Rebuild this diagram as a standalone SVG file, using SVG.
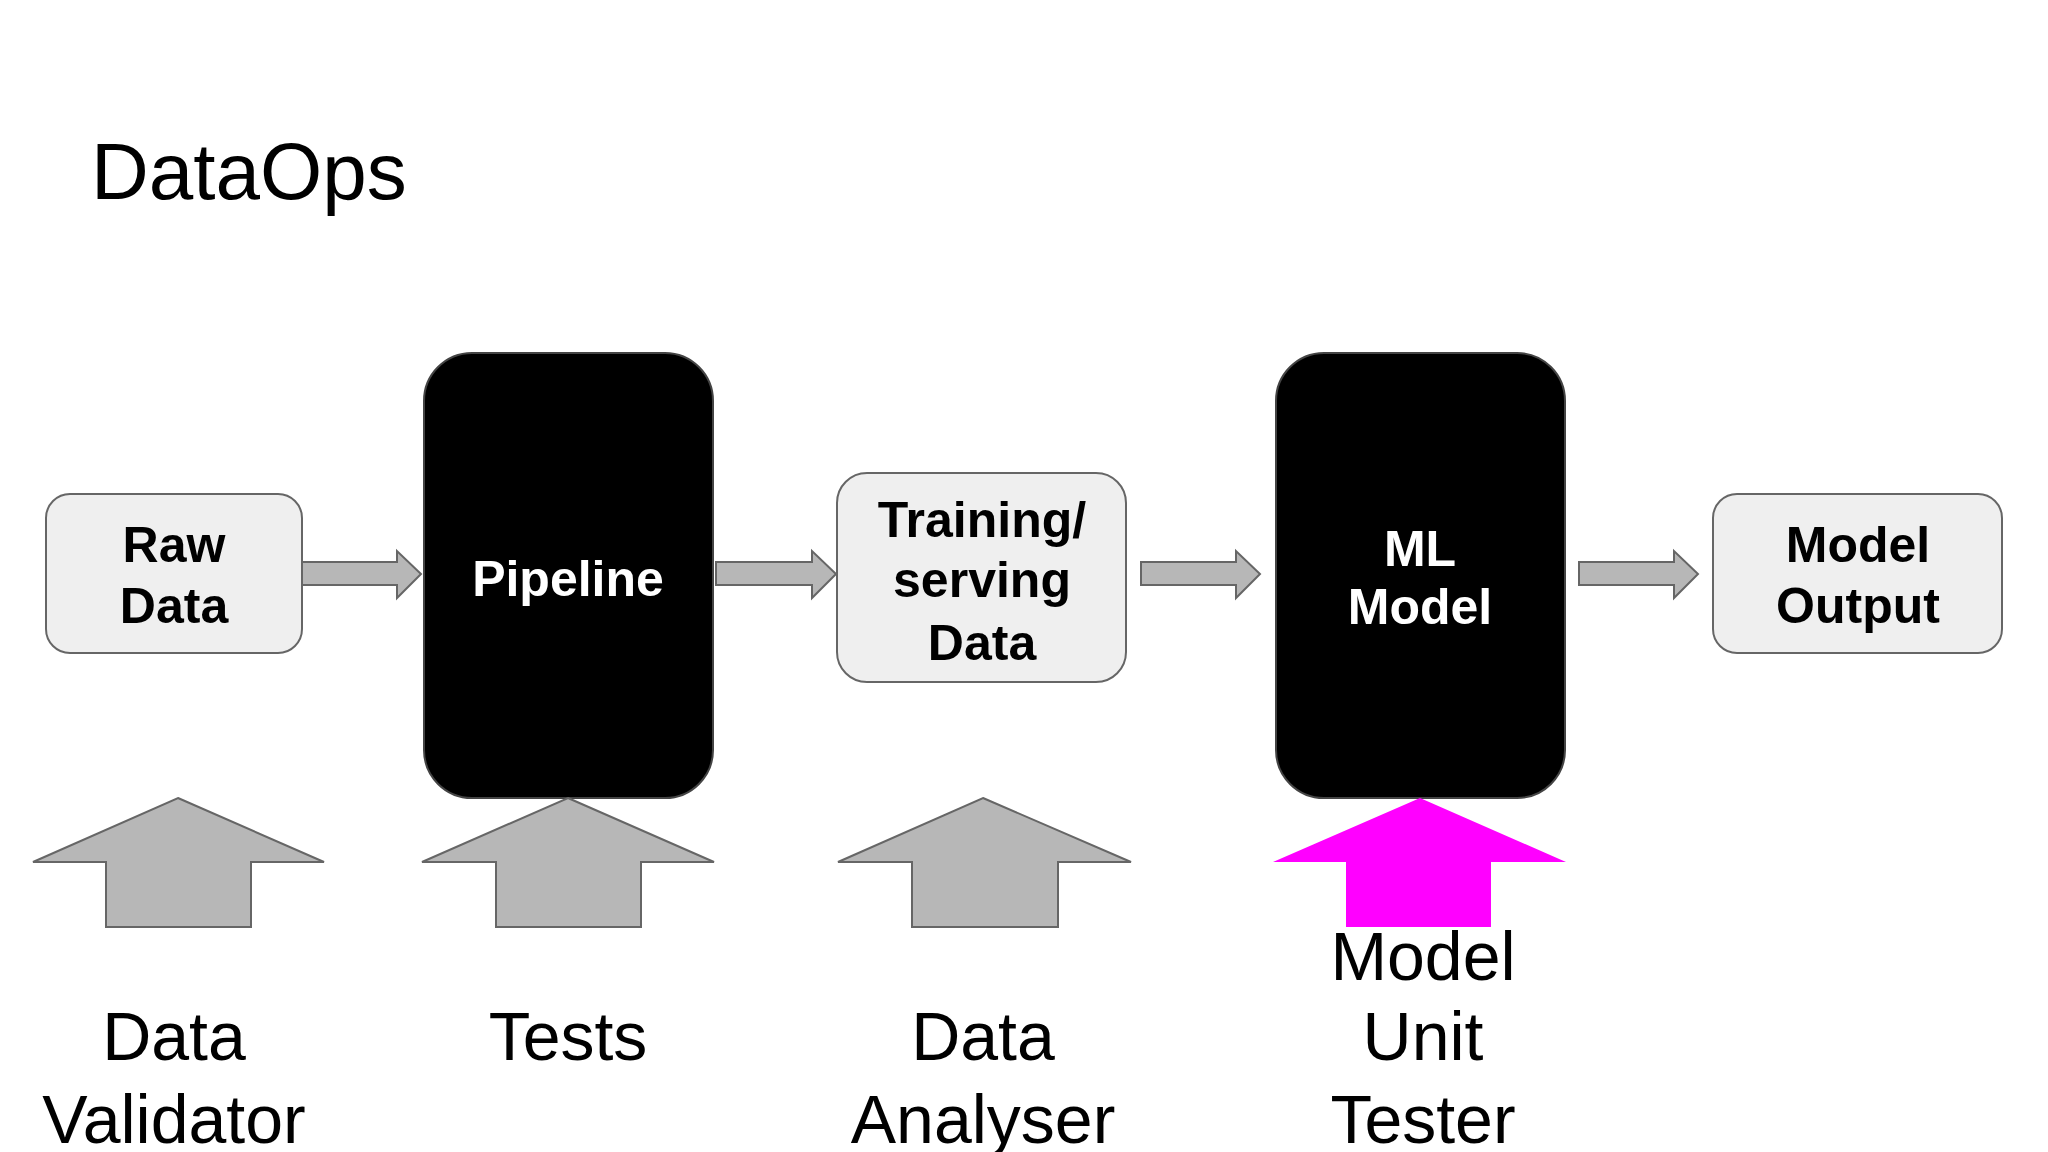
<svg xmlns="http://www.w3.org/2000/svg" width="2048" height="1152" viewBox="0 0 2048 1152">
<style>
text{font-family:"Liberation Sans",Arial,sans-serif;text-anchor:middle}
.b{font-weight:bold;font-size:50px}
.l{font-size:68px;fill:#000}
.light{fill:#efefef;stroke:#666;stroke-width:2}
.dark{fill:#000;stroke:#444;stroke-width:2}
.arr{fill:#b7b7b7;stroke:#666;stroke-width:2}
</style>
<rect width="2048" height="1152" fill="#fff"/>
<text x="91" y="199" style="font-size:80px;text-anchor:start">DataOps</text>
<g id="raw"><rect class="light" x="46" y="494" width="256" height="159" rx="24"/><text class="b" x="174" y="562">Raw</text><text class="b" x="174" y="623">Data</text></g>
<g id="pipeline"><rect class="dark" x="424" y="353" width="289" height="445" rx="48"/><text class="b" x="568" y="596" fill="#fff">Pipeline</text></g>
<g id="training"><rect class="light" x="837" y="473" width="289" height="209" rx="30"/><text class="b" x="982" y="537">Training/</text><text class="b" x="982" y="597">serving</text><text class="b" x="982" y="660">Data</text></g>
<g id="model"><rect class="dark" x="1276" y="353" width="289" height="445" rx="48"/><text class="b" x="1420" y="566" fill="#fff">ML</text><text class="b" x="1420" y="624" fill="#fff">Model</text></g>
<g id="output"><rect class="light" x="1713" y="494" width="289" height="159" rx="24"/><text class="b" x="1858" y="562">Model</text><text class="b" x="1858" y="623">Output</text></g>
<g id="connectors">
<polygon class="arr" points="302,562 397,562 397,551 421,574 397,598 397,585 302,585"/>
<polygon class="arr" points="716,562 812,562 812,551 836,574 812,598 812,585 716,585"/>
<polygon class="arr" points="1141,562 1236,562 1236,551 1260,574 1236,598 1236,585 1141,585"/>
<polygon class="arr" points="1579,562 1674,562 1674,551 1698,574 1674,598 1674,585 1579,585"/>
</g>
<g id="validator"><polygon class="arr" points="178,798 324,862 251,862 251,927 106,927 106,862 33,862"/><text class="l" x="174" y="1060">Data</text><text class="l" x="174" y="1143">Validator</text></g>
<g id="tests"><polygon class="arr" points="568,798 714,862 641,862 641,927 496,927 496,862 422,862"/><text class="l" x="568" y="1060">Tests</text></g>
<g id="analyser"><polygon class="arr" points="983,798 1131,862 1058,862 1058,927 912,927 912,862 838,862"/><text class="l" x="983" y="1060">Data</text><text class="l" x="983" y="1143">Analyser</text></g>
<g id="unittester"><polygon fill="#ff00ff" points="1420,798 1566,862 1491,862 1491,927 1346,927 1346,862 1273,862"/><text class="l" x="1423" y="980">Model</text><text class="l" x="1423" y="1060">Unit</text><text class="l" x="1423" y="1143">Tester</text></g>
</svg>
